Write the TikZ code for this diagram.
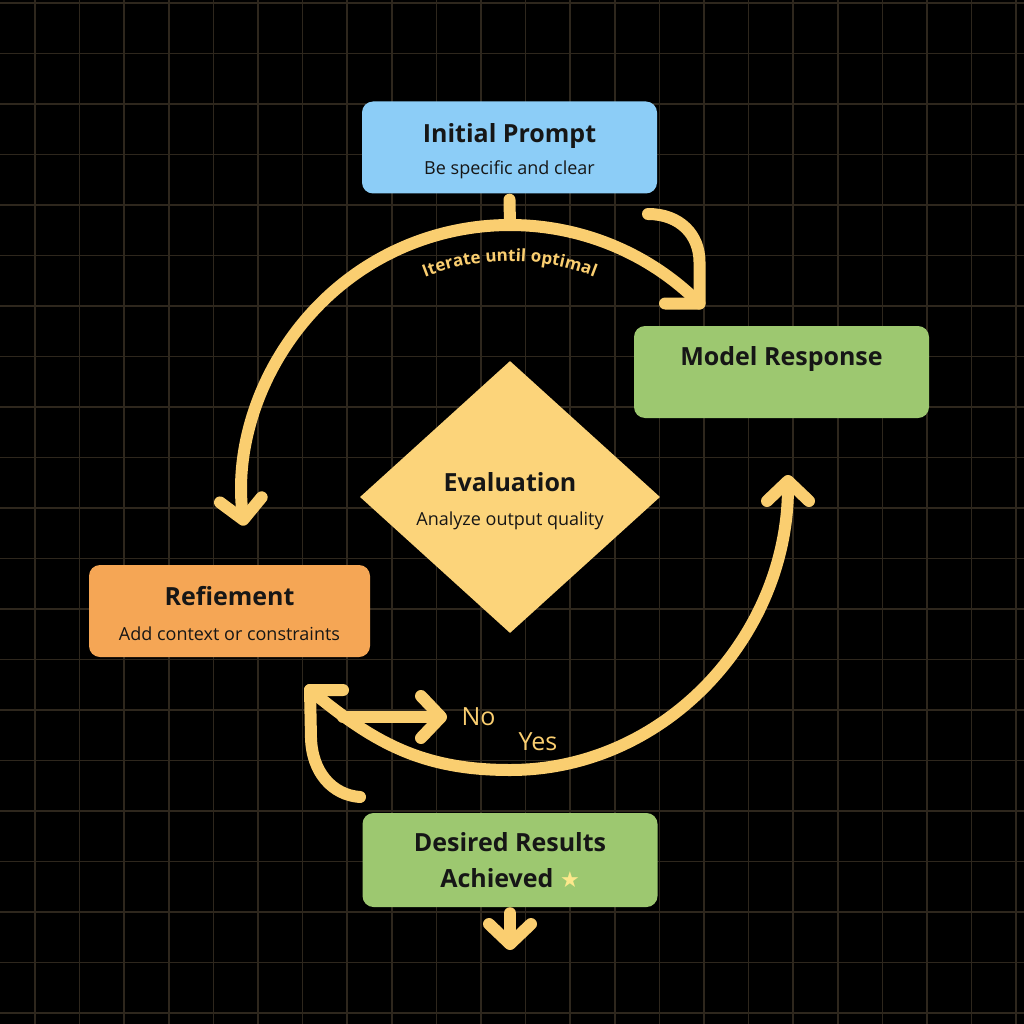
\documentclass[tikz,border=0pt]{standalone}
\usepackage{fontspec}
\setmainfont{Open Sans}
\newfontfamily\starfamily{DejaVu Sans}
\usetikzlibrary{shapes.geometric, arrows.meta, decorations.text}
\definecolor{gridc}{RGB}{46,39,29}
\definecolor{promptblue}{RGB}{140,205,247}
\definecolor{respgreen}{RGB}{157,200,112}
\definecolor{refineorange}{RGB}{245,166,85}
\definecolor{evalyellow}{RGB}{252,212,122}
\definecolor{loopyellow}{RGB}{250,206,112}
\definecolor{starc}{RGB}{252,232,140}
\definecolor{inkc}{RGB}{22,22,22}
\newcommand{\boxtitle}{\fontsize{25}{31}\selectfont\bfseries}
\newcommand{\boxsub}{\fontsize{18}{22}\selectfont\mdseries}
\newcommand{\itersize}{\fontsize{17}{22}\selectfont\bfseries}

\begin{document}
\begin{tikzpicture}[
  x=1pt, y=1pt,
  box/.style={
    rectangle, rounded corners=11pt,
    minimum width=295pt, minimum height=92pt,
    inner sep=0pt, align=center, text=inkc, font=\boxtitle
  },
  loop/.style={draw=loopyellow, line width=12pt, line cap=round, line join=round},
  tip/.style={-{Straight Barb[length=20pt,width=42pt,round]}},
  lbl/.style={text=loopyellow, font=\fontsize{25}{28}\selectfont}
]
  % Background and grid
  \fill[black] (0,0) rectangle (1024,-1024);
  \useasboundingbox (0,0) rectangle (1024,-1024);
  \foreach \i in {0,...,22}
    \draw[gridc, line width=1.6pt] ({35+44.6*\i},0) -- ({35+44.6*\i},-1024);
  \foreach \j in {0,...,20}
    \draw[gridc, line width=1.6pt] (0,{-3-50.5*\j}) -- (1024,{-3-50.5*\j});

  % Nodes
  \node[box, fill=promptblue, text height=59pt] (prompt) at (509.5,-147.5)
    {Initial Prompt\\[1pt]{\boxsub Be specific and clear}};
  \node[box, fill=respgreen, text depth=31pt] (resp) at (781.5,-372) {Model Response};
  \node[diamond, fill=evalyellow, minimum width=300pt, minimum height=272pt,
    inner sep=0pt, align=center, text=inkc, font=\boxtitle, text height=61pt] (eval) at (510,-497)
    {Evaluation\\[3pt]{\boxsub Analyze output quality}};
  \node[box, fill=refineorange, minimum width=281pt, text height=60pt] (refine) at (229.5,-611)
    {Refiement\\[4pt]{\boxsub Add context or constraints}};
  \node[box, fill=respgreen, minimum height=94pt] (done) at (510,-860)
    {Desired Results\\[5pt]Achieved {\starfamily\mdseries\fontsize{22}{22}\selectfont\color{starc}★}};

  % Loop points
  \coordinate (looptop) at (510,-225);
  \coordinate (rcorner) at (699.5,-303.5);
  \coordinate (lcorner) at (310,-690);
  \coordinate (yesend) at (788,-475);
  \coordinate (nostart) at (343,-717);
  \coordinate (noend) at (447,-717);
  \coordinate (iterL) at (376.5,-303);
  \coordinate (outend) at (510,-950);

  % Connectors
  \draw[loop] ([yshift=-6pt]prompt.south) -- (looptop);
  \draw[loop, tip] (rcorner) arc[start angle=45, end angle=187, radius=268];
  \draw[loop] (648,-214) .. controls (680,-214) and (699.5,-235) .. (699.5,-262)
    -- (rcorner) -- (665,-303.5);
  \draw[loop, tip] (lcorner) .. controls (372,-741) and (420,-770) .. (510,-770)
    .. controls (665,-770) and (788,-636) .. (yesend);
  \draw[loop] (343,-690) -- (lcorner) -- (311,-738)
    .. controls (312,-772) and (332,-795) .. (360,-797);
  \draw[loop, tip] (nostart) -- (noend);
  \draw[loop, tip] ([yshift=-6pt]done.south) -- (outend);

  % Labels
  \path[decorate, decoration={text along path, text align=center,
    text={|\itersize\color{loopyellow}|Iterate until optimal}}]
    (iterL) arc[start angle=125, end angle=55, radius=232];
  \node[lbl, anchor=west] (nolbl) at (458,-717) {No};
  \node[lbl] (yeslbl) at (538,-742) {Yes};
\end{tikzpicture}
\end{document}
